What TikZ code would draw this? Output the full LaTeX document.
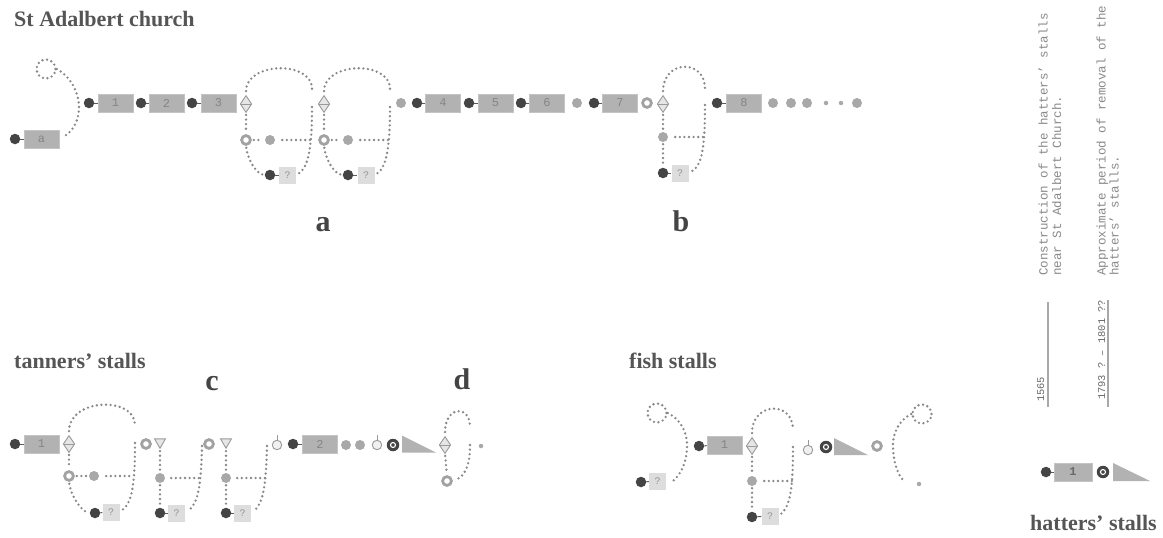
\documentclass[tikz,border=0pt]{standalone}
\usepackage{fontspec}
\setmainfont{Liberation Serif}
\setmonofont{Liberation Mono}
\usetikzlibrary{shapes.geometric}
\definecolor{dk}{HTML}{444444}
\definecolor{gd}{HTML}{A8A8A8}
\definecolor{bx}{HTML}{B2B2B2}
\definecolor{bxd}{HTML}{C4C4C4}
\definecolor{bxt}{HTML}{858585}
\definecolor{qb}{HTML}{DDDDDD}
\definecolor{qt}{HTML}{939393}
\definecolor{rg}{HTML}{A2A2A2}
\definecolor{dm}{HTML}{9A9A9A}
\definecolor{dmf}{HTML}{E6E6E6}
\definecolor{dl}{HTML}{888888}
\definecolor{lk}{HTML}{5A5A5A}
\definecolor{tt}{HTML}{555555}
\definecolor{mt}{HTML}{8A8A8A}
\begin{document}
\begin{tikzpicture}[x=1pt,y=-1pt,
 dkdot/.style={circle,fill=dk,minimum size=10.5pt,inner sep=0pt},
 gdot/.style={circle,fill=gd,minimum size=10pt,inner sep=0pt},
 sdot/.style={circle,fill=gd,minimum size=4.5pt,inner sep=0pt},
 ringn/.style={circle,draw=rg,line width=2.8pt,fill=white,minimum size=8.8pt,inner sep=0pt},
 stall/.style={rectangle,fill=bx,draw=bxd,line width=0.5pt,minimum width=35pt,minimum height=17.5pt,inner sep=0pt,text=bxt,font=\fontsize{12}{12}\selectfont\ttfamily},
 qbox/.style={rectangle,fill=qb,minimum width=17pt,minimum height=17pt,inner sep=0pt,text=qt,font=\fontsize{10}{10}\selectfont\ttfamily},
 diam/.style={diamond,draw=dm,fill=dmf,line width=0.9pt,minimum width=11.5pt,minimum height=17pt,inner sep=0pt,path picture={\draw[dm,line width=0.7pt] (path picture bounding box.west) -- (path picture bounding box.east);}},
 trin/.style={regular polygon,regular polygon sides=3,shape border rotate=180,draw=dm,fill=dmf,line width=0.9pt,minimum size=12.5pt,inner sep=0pt},
 lolli/.style={circle,draw=dm,fill=dmf!60!white,line width=0.9pt,minimum size=9.5pt,inner sep=0pt},
 tgt/.style={circle,fill=dk,minimum size=12.5pt,inner sep=0pt,path picture={\draw[white,line width=1.1pt] (path picture bounding box.center) circle (2.5pt);}},
 wdg/.style={rectangle,minimum width=34pt,minimum height=17pt,inner sep=0pt,path picture={\fill[bx] (path picture bounding box.north west) -- (path picture bounding box.south west) -- (path picture bounding box.south east) -- cycle;}},
 dotline/.style={draw=dl,line width=2.6pt,line cap=round,dash pattern=on 0pt off 4.6pt},
 dcirc/.style={circle,dotline,minimum size=19pt,inner sep=0pt},
 link/.style={draw=lk,line width=1pt},
 stick/.style={draw=dm,line width=0.9pt},
 ttl/.style={text=tt,font=\fontsize{22}{25}\selectfont\bfseries,inner sep=0pt,anchor=base west},
 ltr/.style={text=dk,font=\fontsize{30}{32}\selectfont\bfseries,inner sep=0pt,anchor=base},
 dsc/.style={text=mt,font=\fontsize{12.5}{13}\selectfont\ttfamily,inner sep=0pt,rotate=90,anchor=base west},
 dte/.style={text=mt!75!black,font=\fontsize{10.4}{11}\selectfont\ttfamily,inner sep=0pt,rotate=90,anchor=base west},
 uline/.style={draw=gd,line width=1.1pt}]
\fill[white] (0,0) rectangle (1163,538);
\useasboundingbox (0,0) rectangle (1163,538);

% ---------- titles ----------
\node[ttl] (T1) at (14,27) {St Adalbert church};
\node[ttl] (T2) at (14,368) {tanners’ stalls};
\node[ttl] (T3) at (629,368) {fish stalls};
\node[ttl] (T4) at (1030,530) {hatters’ stalls};
\node[ltr] (La) at (323,231) {a};
\node[ltr] (Lb) at (681,231) {b};
\node[ltr] (Lc) at (212,390) {c};
\node[ltr] (Ld) at (462,389) {d};

% ---------- St Adalbert row ----------
\node[dkdot] (da) at (15,139) {};
\node[stall] (sa) at (41.5,139) {a};
\draw[link] (da) -- (sa);
\node[dcirc] (lc0) at (46,69) {};
\coordinate (lc0e) at (63,137);
\draw[dotline] (lc0.east) .. controls (70,76) and (79,92) .. (79,107) .. controls (79,122) and (72,132) .. (lc0e);

\node[dkdot] (d1) at (89,103) {};
\node[stall] (s1) at (115.5,103) {1};
\draw[link] (d1) -- (s1);
\node[dkdot] (d2) at (141,103) {};
\node[stall] (s2) at (166.5,103) {2};
\draw[link] (d2) -- (s2);
\node[dkdot] (d3) at (192,103) {};
\node[stall] (s3) at (218.5,103) {3};
\draw[link] (d3) -- (s3);

% loop a1
\node[diam] (D1) at (246,104) {};
\node[ringn] (R1) at (246,140) {};
\node[gdot] (G1) at (270,140) {};
\node[dkdot] (K1) at (270,175) {};
\node[qbox] (Q1) at (287.5,175) {?};
\draw[link] (K1) -- (Q1);
\coordinate (A1t) at (312,89);
\coordinate (A1r) at (312,107);
\coordinate (A1h) at (312,140);
\draw[dotline,shorten <=4pt] (D1.north) .. controls (246,62) and (312,60) .. (A1t);
\draw[dotline,shorten >=3pt] (A1r) .. controls (312,145) and (309,167) .. (Q1.east);
\draw[dotline,shorten <=2pt,shorten >=2pt] (D1.south) -- (R1.north);
\draw[dotline,shorten <=2pt,shorten >=2pt] (R1.east) -- (G1.west);
\draw[dotline,shorten <=7pt] (G1.east) -- (A1h);
\draw[dotline,shorten <=2pt,shorten >=2pt] (R1.south) .. controls (248,160) and (256,173) .. (K1.west);

% loop a2
\node[diam] (D2) at (324,104) {};
\node[ringn] (R2) at (324,140) {};
\node[gdot] (G2) at (348,140) {};
\node[dkdot] (K2) at (348,175) {};
\node[qbox] (Q2) at (366,175) {?};
\draw[link] (K2) -- (Q2);
\coordinate (A2t) at (390,89);
\coordinate (A2r) at (390,107);
\coordinate (A2h) at (390,140);
\draw[dotline,shorten <=4pt] (D2.north) .. controls (324,62) and (390,60) .. (A2t);
\draw[dotline,shorten >=3pt] (A2r) .. controls (390,145) and (387,167) .. (Q2.east);
\draw[dotline,shorten <=2pt,shorten >=2pt] (D2.south) -- (R2.north);
\draw[dotline,shorten <=2pt,shorten >=2pt] (R2.east) -- (G2.west);
\draw[dotline,shorten <=7pt] (G2.east) -- (A2h);
\draw[dotline,shorten <=2pt,shorten >=2pt] (R2.south) .. controls (326,160) and (334,173) .. (K2.west);

\node[gdot] (g4) at (401,103) {};
\node[dkdot] (d4) at (417,103) {};
\node[stall] (s4) at (443,103) {4};
\draw[link] (d4) -- (s4);
\node[dkdot] (d5) at (469,103) {};
\node[stall] (s5) at (495.5,103) {5};
\draw[link] (d5) -- (s5);
\node[dkdot] (d6) at (521,103) {};
\node[stall] (s6) at (547,103) {6};
\draw[link] (d6) -- (s6);
\node[gdot] (g7) at (577,103) {};
\node[dkdot] (d7) at (594,103) {};
\node[stall] (s7) at (620,103) {7};
\draw[link] (d7) -- (s7);
\node[ringn] (r7) at (647,103) {};

% loop b
\node[diam] (D3) at (663,104) {};
\node[gdot] (G3) at (663,137) {};
\node[dkdot] (K3) at (663,173) {};
\node[qbox] (Q3) at (680,173) {?};
\draw[link] (K3) -- (Q3);
\coordinate (B1t) at (705,89);
\coordinate (B1r) at (705,105);
\coordinate (B1h) at (704,137);
\draw[dotline,shorten <=4pt] (D3.north) .. controls (663,60) and (705,58) .. (B1t);
\draw[dotline,shorten >=3pt] (B1r) .. controls (705,148) and (702,166) .. (Q3.east);
\draw[dotline,shorten <=2pt,shorten >=2pt] (D3.south) -- (G3.north);
\draw[dotline,shorten <=2pt,shorten >=2pt] (G3.south) -- (K3.north);
\draw[dotline,shorten <=7pt] (G3.east) -- (B1h);

\node[dkdot] (d8) at (717,103) {};
\node[stall] (s8) at (744,103) {8};
\draw[link] (d8) -- (s8);
\node[gdot] (g8a) at (773,103) {};
\node[gdot] (g8b) at (791,103) {};
\node[gdot] (g8c) at (807,103) {};
\node[sdot] (g8d) at (826,103) {};
\node[sdot] (g8e) at (841,103) {};
\node[gdot] (g8f) at (857,103) {};

% ---------- tanners' stalls ----------
\node[dkdot] (td1) at (15,444) {};
\node[stall] (ts1) at (41.5,444) {1};
\draw[link] (td1) -- (ts1);
% c1
\node[diam] (TD) at (69,444) {};
\node[ringn] (TR1) at (69,476) {};
\node[gdot] (TG1) at (94,476) {};
\node[dkdot] (TK1) at (95,513) {};
\node[qbox] (TQ1) at (111,512) {?};
\draw[link] (TK1) -- (TQ1);
\coordinate (C1t) at (135,425);
\coordinate (C1r) at (135,443);
\coordinate (C1h) at (133,476);
\draw[dotline,shorten <=4pt] (TD.north) .. controls (69,398) and (135,396) .. (C1t);
\draw[dotline,shorten >=3pt] (C1r) .. controls (135,485) and (132,503) .. (TQ1.east);
\draw[dotline,shorten <=2pt,shorten >=2pt] (TD.south) -- (TR1.north);
\draw[dotline,shorten <=2pt,shorten >=2pt] (TR1.east) -- (TG1.west);
\draw[dotline,shorten <=7pt] (TG1.east) -- (C1h);
\draw[dotline,shorten <=2pt,shorten >=2pt] (TR1.south) .. controls (71,495) and (80,510) .. (TK1.west);
% c2
\node[ringn] (TR2) at (146,444) {};
\node[trin] (TT2) at (160,442) {};
\node[gdot] (TG2) at (160,478) {};
\node[dkdot] (TK2) at (160,513) {};
\node[qbox] (TQ2) at (176.5,513) {?};
\draw[link] (TK2) -- (TQ2);
\coordinate (C2r) at (202,446);
\coordinate (C2h) at (200,478);
\draw[dotline,shorten >=3pt] (C2r) .. controls (201,487) and (198,504) .. (TQ2.east);
\draw[dotline,shorten <=2pt,shorten >=2pt] (TT2.south) -- (TG2.north);
\draw[dotline,shorten <=2pt,shorten >=2pt] (TG2.south) -- (TK2.north);
\draw[dotline,shorten <=6pt] (TG2.east) -- (C2h);
% c3
\node[ringn] (TR3) at (209,444) {};
\node[trin] (TT3) at (226,442) {};
\node[gdot] (TG3) at (226,478) {};
\node[dkdot] (TK3) at (226,513) {};
\node[qbox] (TQ3) at (242.5,513) {?};
\draw[link] (TK3) -- (TQ3);
\coordinate (C3r) at (267,446);
\coordinate (C3h) at (265,478);
\draw[dotline,shorten >=3pt] (C3r) .. controls (266,487) and (263,504) .. (TQ3.east);
\draw[dotline,shorten <=2pt,shorten >=2pt] (TT3.south) -- (TG3.north);
\draw[dotline,shorten <=2pt,shorten >=2pt] (TG3.south) -- (TK3.north);
\draw[dotline,shorten <=6pt] (TG3.east) -- (C3h);

\node[lolli] (TL1) at (277,445) {};
\draw[stick] (TL1.north) -- ++(0,-5);
\node[dkdot] (td2) at (293,444) {};
\node[stall] (ts2) at (320,444) {2};
\draw[link] (td2) -- (ts2);
\node[gdot] (tg2a) at (346,445) {};
\node[gdot] (tg2b) at (360,445) {};
\node[lolli] (TL2) at (377,445) {};
\draw[stick] (TL2.north) -- ++(0,-5);
\node[tgt] (TX) at (393,445) {};
\node[wdg] (TW) at (419,444) {};
% d
\node[diam] (TD4) at (445,445) {};
\node[ringn] (TRd) at (447,481) {};
\coordinate (E1t) at (470,427);
\coordinate (E1r) at (470,445);
\draw[dotline,shorten <=4pt] (TD4.north) .. controls (445,406) and (470,404) .. (E1t);
\draw[dotline,shorten >=3pt] (E1r) .. controls (470,466) and (465,476) .. (TRd.east);
\draw[dotline,shorten <=2pt,shorten >=2pt] (TD4.south) -- (TRd.north);
\node[sdot] (TS) at (481,446) {};

% ---------- fish stalls ----------
\node[dcirc] (FC1) at (657,413) {};
\coordinate (Fe1) at (673,481);
\draw[dotline] (FC1.east) .. controls (680,419) and (688,432) .. (687,448) .. controls (686,465) and (680,475) .. (Fe1);
\node[dkdot] (FK0) at (641,482) {};
\node[qbox] (FQ0) at (657.5,481) {?};
\draw[link] (FK0) -- (FQ0);
\node[dkdot] (Fd1) at (699,446) {};
\node[stall] (Fs1) at (724.5,445) {1};
\draw[link] (Fd1) -- (Fs1);
\node[diam] (FD) at (752,446) {};
\node[gdot] (FG) at (752,481) {};
\node[dkdot] (FK) at (752,517) {};
\node[qbox] (FQ) at (770,516) {?};
\draw[link] (FK) -- (FQ);
\coordinate (F1t) at (793,430);
\coordinate (F1r) at (793,447);
\coordinate (F1h) at (793,481);
\draw[dotline,shorten <=4pt] (FD.north) .. controls (752,402) and (793,400) .. (F1t);
\draw[dotline,shorten >=3pt] (F1r) .. controls (793,490) and (790,506) .. (FQ.east);
\draw[dotline,shorten <=2pt,shorten >=2pt] (FD.south) -- (FG.north);
\draw[dotline,shorten <=2pt,shorten >=2pt] (FG.south) -- (FK.north);
\draw[dotline,shorten <=7pt] (FG.east) -- (F1h);
\node[lolli] (FL) at (808,450) {};
\draw[stick] (FL.north) -- ++(0,-5);
\node[tgt] (FX) at (826,447) {};
\node[wdg] (FW) at (851,446.5) {};
\node[ringn] (FR) at (877,446) {};
\node[dcirc] (FC2) at (922,414) {};
\coordinate (Fe2) at (904,481);
\draw[dotline] (FC2.west) .. controls (900,420) and (892,432) .. (893,448) .. controls (894,465) and (898,475) .. (Fe2);
\node[sdot] (FS) at (919,484) {};

% ---------- hatters' stalls ----------
\node[dkdot] (HK) at (1046,472) {};
\node[stall,minimum width=38pt,minimum height=18pt,text=dk!80!white,font=\fontsize{12}{12}\selectfont\ttfamily\bfseries] (HS) at (1073,472) {1};
\draw[link] (HK) -- (HS);
\node[tgt] (HX) at (1103,472) {};
\node[wdg,minimum width=37pt,minimum height=18pt] (HW) at (1131.5,472) {};

\node[dsc] (N1) at (1047.5,276) {Construction of the hatters’ stalls};
\node[dsc] (N2) at (1061,276) {near St Adalbert Church.};
\node[dsc] (N3) at (1105.5,276) {Approximate period of removal of the};
\node[dsc] (N4) at (1118.5,276) {hatters’ stalls.};
\node[dte] (Y1) at (1044,402) {1565};
\node[dte] (Y2) at (1105,400) {1793 ? – 1801 ??};
\coordinate (U1a) at (1048,407);
\coordinate (U1b) at (1048,302);
\coordinate (U2a) at (1108,407);
\coordinate (U2b) at (1108,300);
\draw[uline] (U1a) -- (U1b);
\draw[uline] (U2a) -- (U2b);
\end{tikzpicture}
\end{document}
